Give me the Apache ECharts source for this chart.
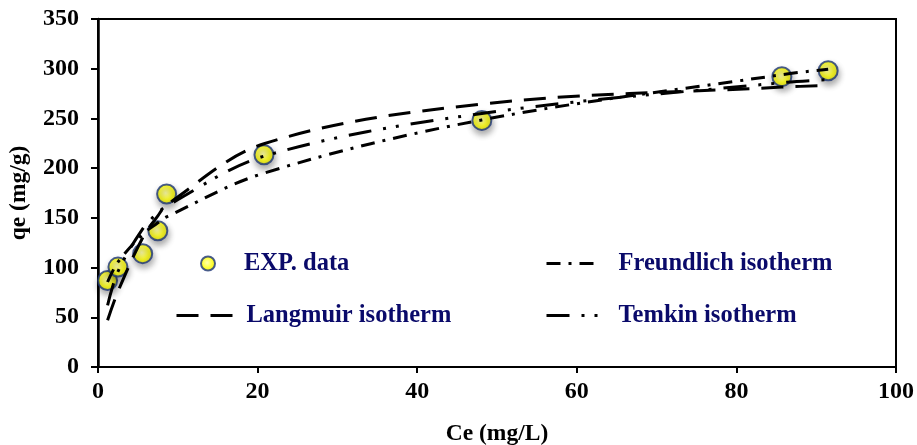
<!DOCTYPE html>
<html>
<head>
<meta charset="utf-8">
<script src="https://cdn.jsdelivr.net/npm/echarts@6/dist/echarts.min.js"></script>
<style>
  html, body { margin: 0; padding: 0; background: #ffffff; }
  #chart { width: 917px; height: 445px; }
</style>
</head>
<body>
<div id="chart"></div>
<script>
// Equilibrium concentration Ce (mg/L) and adsorbed amount qe (mg/g)
const ce = [1.2, 2.5, 5.6, 7.5, 8.6, 20.8, 48.1, 85.7, 91.5];
const qeExp = [87, 100.5, 114, 137, 174, 213.5, 248, 292, 298];

// Isotherm model curves at the same Ce values
const qeLangmuir = [47, 76, 130, 152, 163, 224.5, 264.5, 281.5, 283];
const qeFreundlich = [85.5, 105.5, 133.5, 145, 151, 195, 248.5, 294, 299.5];
const qeTemkin = [62, 96, 139, 155, 162, 212, 255, 286, 289];

// Axis ranges
const xRange = [0, 100, 20];
const yRange = [0, 350, 50];

const seriesNames = ['EXP. data', 'Langmuir isotherm', 'Freundlich isotherm', 'Temkin isotherm'];

const pairs = (ys) => ce.map((x, i) => [x, ys[i]]);

const serifBold = {
  fontFamily: '"Liberation Serif", "Times New Roman", serif',
  fontWeight: 'bold',
  color: '#000000'
};

const legendText = {
  fontFamily: '"Liberation Serif", "Times New Roman", serif',
  fontWeight: 'bold',
  fontSize: 24.5,
  color: '#0A0A6A'
};

function legendBox(name, left, top, w, h, gapLeft, isLine) {
  const box = {
    data: [name],
    left: left,
    top: top,
    padding: 0,
    itemWidth: w,
    itemHeight: h,
    selectedMode: false,
    textStyle: Object.assign({}, legendText, { padding: [0, 0, 0, gapLeft] })
  };
  if (isLine) {
    // only the dashed stroke, no marker in the key
    box.itemStyle = { opacity: 0 };
    box.lineStyle = { width: 3 };
  }
  return box;
}

function modelLine(name, ys, dash) {
  return {
    name: name,
    type: 'line',
    data: pairs(ys),
    smooth: 0.35,
    symbol: 'none',
    z: 4,
    lineStyle: { color: '#000000', width: 3, type: dash, cap: 'butt' },
    itemStyle: { color: '#000000' }
  };
}

const chart = echarts.init(document.getElementById('chart'));
chart.setOption({
  animation: false,
  backgroundColor: '#ffffff',
  grid: {
    left: 98, right: 21, top: 19, bottom: 78,
    outerBoundsMode: 'none',
    containLabel: false,
    show: true, borderColor: '#000000', borderWidth: 2
  },
  legend: [
    legendBox(seriesNames[0], 200, 251, 14, 14, 24, false),
    legendBox(seriesNames[1], 175, 303, 65, 14, 0, true),
    legendBox(seriesNames[2], 545, 251, 55, 14, 12, true),
    legendBox(seriesNames[3], 545, 303, 60, 14, 7, true)
  ],
  xAxis: {
    type: 'value',
    min: xRange[0], max: xRange[1], interval: xRange[2],
    name: 'Ce (mg/L)',
    nameLocation: 'middle',
    nameGap: 55,
    nameTextStyle: Object.assign({ fontSize: 23.5 }, serifBold),
    axisLine: { lineStyle: { color: '#000000', width: 2 } },
    axisTick: { show: true, inside: false, length: 6, lineStyle: { color: '#000000', width: 2 } },
    axisLabel: Object.assign({ fontSize: 24, margin: 13 }, serifBold),
    splitLine: { show: false }
  },
  yAxis: {
    type: 'value',
    min: yRange[0], max: yRange[1], interval: yRange[2],
    name: 'qe (mg/g)',
    nameLocation: 'middle',
    nameGap: 67,
    nameRotate: 90,
    nameTextStyle: Object.assign({ fontSize: 23.5 }, serifBold),
    axisLine: { lineStyle: { color: '#000000', width: 2.5 } },
    axisTick: { show: true, inside: false, length: 7, lineStyle: { color: '#000000', width: 2 } },
    axisLabel: Object.assign({ fontSize: 24, margin: 19 }, serifBold),
    splitLine: { show: false }
  },
  series: [
    {
      name: seriesNames[0],
      type: 'scatter',
      data: pairs(qeExp),
      symbol: 'circle',
      symbolSize: 19,
      z: 2,
      itemStyle: {
        color: {
          type: 'radial', x: 0.45, y: 0.45, r: 0.6,
          colorStops: [
            { offset: 0, color: '#FFFF99' },
            { offset: 0.55, color: '#FFFF00' },
            { offset: 1, color: '#E0DC00' }
          ]
        },
        borderColor: '#1C3478',
        borderWidth: 2,
        shadowBlur: 6,
        shadowColor: 'rgba(0,0,0,0.4)',
        shadowOffsetX: 1,
        shadowOffsetY: 4
      }
    },
    modelLine(seriesNames[1], qeLangmuir, [22, 12]),
    modelLine(seriesNames[2], qeFreundlich, [14, 8, 3, 8]),
    modelLine(seriesNames[3], qeTemkin, [23, 12, 3, 10, 3, 12])
  ]
});
</script>
</body>
</html>
